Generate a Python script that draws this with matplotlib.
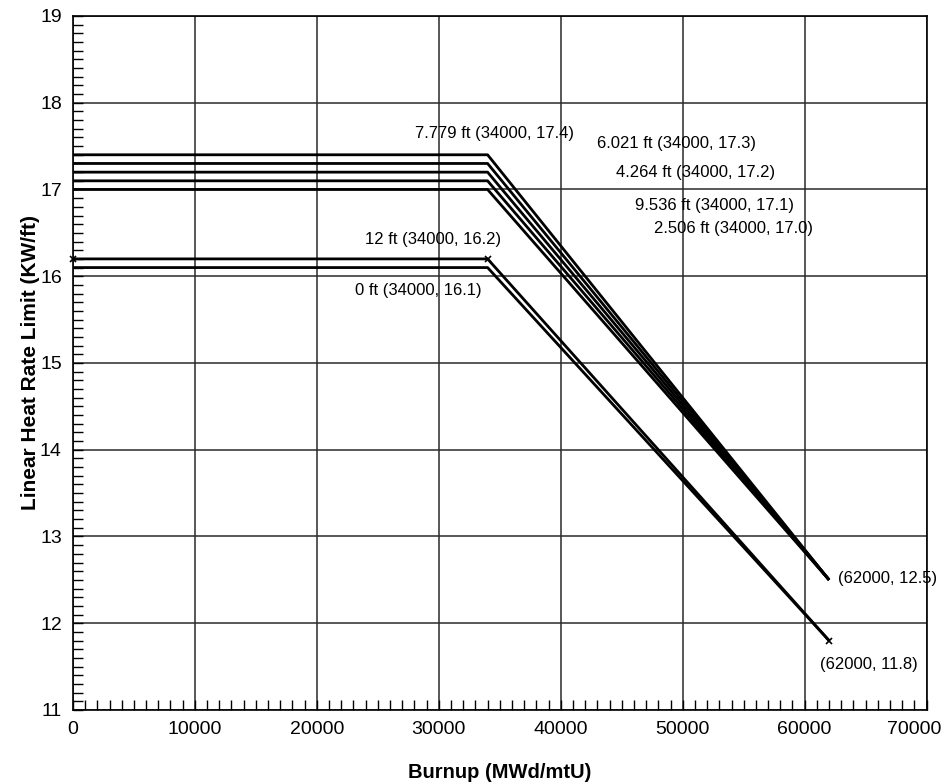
#!/usr/bin/env python3
"""Linear heat rate limit vs burnup, redrawn from the reference figure."""

import matplotlib

matplotlib.use("Agg")
import matplotlib.pyplot as plt
from matplotlib.ticker import FuncFormatter, MultipleLocator

# burnup break points (MWd/mtU)
BURNUP_FLAT_END = 34000
BURNUP_END = 62000
BURNUP_MAX = 70000

# upper group: elevation label, LHGR at plateau, LHGR at 62000
UPPER_NAMES = ["7.779 ft", "6.021 ft", "4.264 ft", "9.536 ft", "2.506 ft"]
UPPER_PLATEAU = [17.4, 17.3, 17.2, 17.1, 17.0]
UPPER_END = 12.5

# lower group
LOWER_NAMES = ["12 ft", "0 ft"]
LOWER_PLATEAU = [16.2, 16.1]
LOWER_END = 11.8

# label placement (data coords) for the annotation texts
UPPER_LABEL_POS = [(34600, 17.65), (49500, 17.53), (51050, 17.20), (52600, 16.82), (54150, 16.55)]
LOWER_LABEL_POS = [(29550, 16.42), (28300, 15.84)]
END_LABEL_POS = [(66800, 12.52), (65250, 11.53)]

FONT = ["Liberation Sans", "DejaVu Sans"]
plt.rcParams["font.family"] = FONT

fig = plt.figure(figsize=(9.47, 7.84), dpi=100)
ax = fig.add_axes([0.077, 0.0944, 0.9015, 0.8852])

line_kw = dict(color="black", linewidth=2.0, solid_capstyle="butt", zorder=3)

for plateau in UPPER_PLATEAU:
    ax.plot([0, BURNUP_FLAT_END, BURNUP_END], [plateau, plateau, UPPER_END], **line_kw)

for plateau in LOWER_PLATEAU:
    ax.plot([0, BURNUP_FLAT_END, BURNUP_END], [plateau, plateau, LOWER_END], **line_kw)

# the "x" marks on the 12 ft curve and at its end point
ax.plot([0, BURNUP_FLAT_END, BURNUP_END], [LOWER_PLATEAU[0], LOWER_PLATEAU[0], LOWER_END],
        linestyle="none", marker="x", markersize=5, markeredgewidth=1.2, color="black",
        clip_on=False, zorder=4)

for name, plateau, (tx, ty) in zip(UPPER_NAMES, UPPER_PLATEAU, UPPER_LABEL_POS):
    ax.text(tx, ty, f"{name} ({BURNUP_FLAT_END}, {plateau:.1f})", ha="center", va="center",
            fontsize=12, zorder=5)
for name, plateau, (tx, ty) in zip(LOWER_NAMES, LOWER_PLATEAU, LOWER_LABEL_POS):
    ax.text(tx, ty, f"{name} ({BURNUP_FLAT_END}, {plateau:.1f})", ha="center", va="center",
            fontsize=12, zorder=5)
for end_val, (tx, ty) in zip([UPPER_END, LOWER_END], END_LABEL_POS):
    ax.text(tx, ty, f"({BURNUP_END}, {end_val:.1f})", ha="center", va="center",
            fontsize=12, zorder=5)

ax.set_xlim(0, BURNUP_MAX)
ax.set_ylim(11, 19)
ax.xaxis.set_major_locator(MultipleLocator(10000))
ax.xaxis.set_minor_locator(MultipleLocator(1000))
ax.yaxis.set_major_locator(MultipleLocator(1))
ax.yaxis.set_minor_locator(MultipleLocator(0.1))
# last x label is drawn by hand, nudged left so it stays inside the figure
ax.xaxis.set_major_formatter(FuncFormatter(lambda v, _: "" if v >= BURNUP_MAX else f"{v:.0f}"))
ax.tick_params(which="both", direction="in", top=False, right=False, labelsize=14)
ax.tick_params(which="major", length=7, width=1.0, pad=8)
ax.tick_params(which="minor", length=7, width=1.0)
ax.grid(which="major", color="#2a2a2a", linewidth=1.1, zorder=1)
for spine in ax.spines.values():
    spine.set_linewidth(1.2)

ax.annotate(f"{BURNUP_MAX}", xy=(BURNUP_MAX, 11), xycoords="data", xytext=(-9, -8),
            textcoords="offset points", ha="center", va="top", fontsize=14, annotation_clip=False)

ax.set_xlabel("Burnup (MWd/mtU)", fontsize=14.5, fontweight="bold", labelpad=18)
ax.set_ylabel("Linear Heat Rate Limit (KW/ft)", fontsize=15, fontweight="bold", labelpad=0)

fig.savefig("out.png", dpi=100, facecolor="white")
